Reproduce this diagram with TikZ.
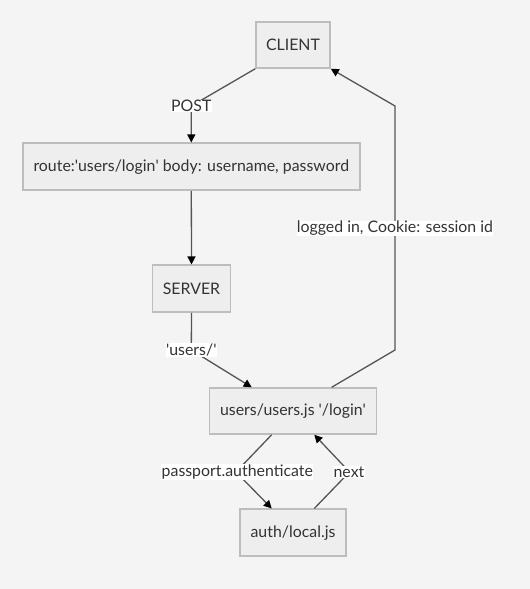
\documentclass[tikz,border=0pt]{standalone}
\usepackage{fontspec}
\setmainfont{Lato}
\usetikzlibrary{arrows.meta,calc}
\definecolor{bgc}{HTML}{F4F4F4}
\definecolor{boxfill}{HTML}{EEEEEE}
\definecolor{boxline}{HTML}{BDBDBD}
\definecolor{txt}{HTML}{333333}
\definecolor{edgec}{HTML}{555555}
\newcommand{\q}{\textquotesingle}
\begin{document}
\begin{tikzpicture}[x=0.75pt,y=-0.75pt,
  box/.style={draw=boxline,line width=1.125pt,fill=boxfill,text=txt,font=\fontsize{11.9pt}{13pt}\selectfont,inner sep=0pt,anchor=center},
  lbl/.style={fill=white,text=txt,font=\fontsize{11.9pt}{13pt}\selectfont,inner sep=0.3pt},
  edge/.style={draw=edgec,line width=0.975pt,-{Triangle[length=6pt,width=6pt,fill=black,color=black]}}]
\fill[bgc] (0,0) rectangle (530,589);
\useasboundingbox (0,0) rectangle (530,589);
\node[box,minimum width=55.5pt,minimum height=34.5pt] (client) at (293,45) {CLIENT};
\node[box,minimum width=252.75pt,minimum height=35.25pt] (route) at (191.3,166.7) {route:\q users/login\q{} body: username, password};
\node[box,minimum width=58.5pt,minimum height=35.25pt] (server) at (191.5,288.7) {SERVER};
\node[box,minimum width=125.25pt,minimum height=34.5pt] (users) at (293,411) {users/users.js \q/login\q};
\node[box,minimum width=79.5pt,minimum height=35.25pt] (auth) at (293,532.7) {auth/local.js};
\coordinate (b1) at (191.3,106);
\coordinate (b2) at (191.3,350);
\coordinate (b3) at (395,350);
\coordinate (b4) at (395,106);
\coordinate (b5) at (236,472);
\coordinate (b6) at (349.5,472);
\coordinate (uL) at ($(users.south)+(-21.3,0)$);
\coordinate (uR) at ($(users.south)+(21.3,0)$);
\coordinate (uTL) at ($(users.north)+(-41.3,0)$);
\coordinate (uTR) at ($(users.north)+(38.7,0)$);
\coordinate (aL) at ($(auth.north)+(-21.3,0)$);
\coordinate (aR) at ($(auth.north)+(21.3,0)$);
\draw[edge] (client.south west) -- (b1) -- (route.north);
\draw[edge] (route.south) -- (server.north);
\draw[edge] (server.south) -- (b2) -- (uTL);
\draw[edge] (uTR) -- (b3) -- (b4) -- (client.south east);
\draw[edge] (uL) -- (b5) -- (aL);
\draw[edge] (aR) -- (b6) -- (uR);
\node[lbl] (lpost) at (b1) {POST};
\node[lbl] (lusers) at (b2) {\q users/\q};
\node[lbl] (lcookie) at (395,228.5) {logged in, Cookie: session id};
\node[lbl] (lpass) at (237.3,472) {passport.authenticate};
\node[lbl] (lnext) at (349,472) {next};
\end{tikzpicture}
\end{document}
